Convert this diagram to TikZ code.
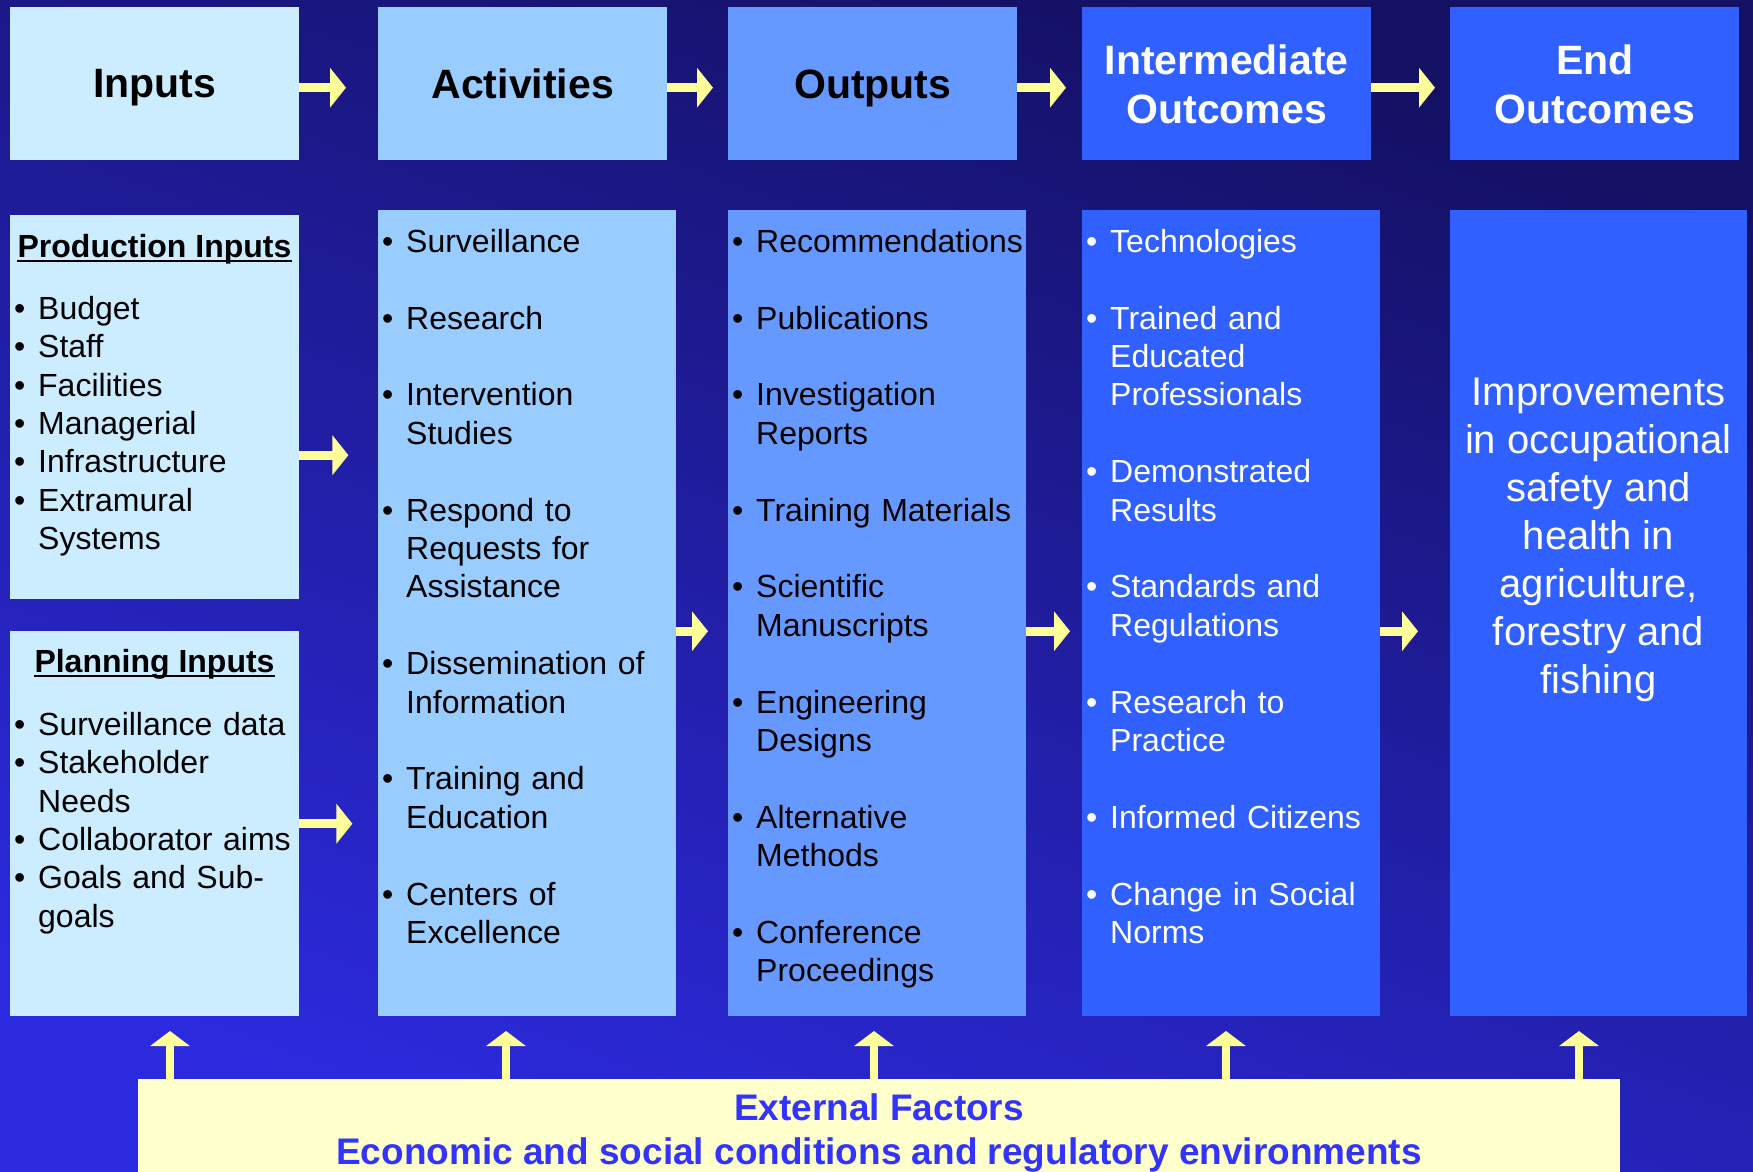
\documentclass[tikz,border=0pt]{standalone}
\usepackage{fontspec}
\setmainfont{Liberation Sans}
\usetikzlibrary{arrows.meta,positioning}

\definecolor{bgtop}{RGB}{20,16,98}
\definecolor{bgbot}{RGB}{44,42,222}
\definecolor{inpc}{RGB}{204,236,255}
\definecolor{actc}{RGB}{153,204,255}
\definecolor{outc}{RGB}{102,153,255}
\definecolor{resc}{RGB}{48,96,255}
\definecolor{extc}{RGB}{255,255,204}
\definecolor{extt}{RGB}{51,51,255}
\definecolor{arrc}{RGB}{255,255,153}

% one bullet item, hanging indent for the wrapped lines
\newcommand{\bul}[1]{\par\hangindent=24pt\hangafter=1\noindent\strut\makebox[24pt][l]{\textbullet}#1}

\tikzset{
  hdr/.style={anchor=north west, inner sep=0pt, minimum width=289pt, minimum height=153pt,
    align=center, text depth=0pt, font=\fontsize{41}{49}\selectfont\bfseries},
  panel/.style={anchor=north west, inner sep=0pt, minimum width=298pt, minimum height=806pt},
  title/.style={anchor=base, inner sep=0pt, font=\fontsize{32}{38.4}\selectfont\bfseries},
  list/.style={anchor=north west, inner sep=0pt, text width=330pt, align=left,
    font=\fontsize{32}{38.4}\selectfont},
  gapped/.style={execute at begin node=\setlength{\parskip}{38.4pt}},
  flow/.style={draw=arrc, line width=9pt, -{Triangle[length=16pt,width=39pt]}},
  upflow/.style={draw=arrc, line width=8pt, -{Triangle[length=15pt,width=39pt]}}
}

\begin{document}
\begin{tikzpicture}[x=1pt, y=-1pt]
\useasboundingbox (0,0) rectangle (1753,1172);
\shade[top color=bgtop, bottom color=bgbot, shading angle=-20] (0,0) rectangle (1753,1172);

% header row
\node[hdr, fill=inpc] (hin) at (10,7) {Inputs};
\node[hdr, fill=actc] (hact) at (378,7) {Activities};
\node[hdr, fill=outc] (hout) at (728,7) {Outputs};
\node[hdr, fill=resc, text=white] (hmid) at (1082,7) {Intermediate\\Outcomes};
\node[hdr, fill=resc, text=white] (hend) at (1450,7) {End\\Outcomes};

\draw[flow] ([yshift=-4pt]hin.east) -- ([xshift=-32pt,yshift=-4pt]hact.west);
\draw[flow] ([yshift=-4pt]hact.east) -- ([xshift=-15pt,yshift=-4pt]hout.west);
\draw[flow] ([yshift=-4pt]hout.east) -- ([xshift=-16pt,yshift=-4pt]hmid.west);
\draw[flow] ([yshift=-4pt]hmid.east) -- ([xshift=-15pt,yshift=-4pt]hend.west);

% body panels
\node[panel, fill=inpc, minimum width=289pt, minimum height=384pt] (bin1) at (10,215) {};
\node[panel, fill=inpc, minimum width=289pt, minimum height=385pt] (bin2) at (10,631) {};
\node[panel, fill=actc] (bact) at (378,210) {};
\node[panel, fill=outc] (bout) at (728,210) {};
\node[panel, fill=resc] (bmid) at (1082,210) {};
\node[panel, fill=resc, minimum width=297pt] (bend) at (1450,210) {};

% inputs
\node[title] (tprod) at (154.5,257) {Production Inputs};
\draw[line width=2.5pt] ([yshift=-4pt]tprod.base west) -- ([yshift=-4pt]tprod.base east);
\node[list] (lprod) at (14,280.6) {\bul{Budget}\bul{Staff}\bul{Facilities}\bul{Managerial}%
  \bul{Infrastructure}\bul{Extramural\newline Systems}\par};
\node[title] (tplan) at (154.5,672) {Planning Inputs};
\draw[line width=2.5pt] ([yshift=-4pt]tplan.base west) -- ([yshift=-4pt]tplan.base east);
\node[list] (lplan) at (14,696.6) {\bul{Surveillance data}\bul{Stakeholder\newline Needs}%
  \bul{Collaborator aims}\bul{Goals and Sub-\newline goals}\par};

% activities, outputs, intermediate outcomes
\node[list, gapped] (lact) at (382,175.2) {\bul{Surveillance}\bul{Research}%
  \bul{Intervention\newline Studies}\bul{Respond to\newline Requests for\newline Assistance}%
  \bul{Dissemination of\newline Information}\bul{Training and\newline Education}%
  \bul{Centers of\newline Excellence}\par};
\node[list, gapped] (lout) at (732,175.2) {\bul{Recommendations}\bul{Publications}%
  \bul{Investigation\newline Reports}\bul{Training Materials}\bul{Scientific\newline Manuscripts}%
  \bul{Engineering\newline Designs}\bul{Alternative\newline Methods}%
  \bul{Conference\newline Proceedings}\par};
\node[list, gapped, text=white] (lmid) at (1086,175.2) {\bul{Technologies}%
  \bul{Trained and\newline Educated\newline Professionals}\bul{Demonstrated\newline Results}%
  \bul{Standards and\newline Regulations}\bul{Research to\newline Practice}%
  \bul{Informed Citizens}\bul{Change in Social\newline Norms}\par};

% end outcome
\node[anchor=north, inner sep=0pt, align=center, text=white, font=\fontsize{40}{48}\selectfont]
  (tend) at (1598.5,371.4) {\strut Improvements\\in occupational\\safety and\\health in\\agriculture,\\forestry and\\fishing};

\draw[flow] ([yshift=-48pt]bin1.east) -- ++(49,0);
\draw[flow] (bin2.east) -- ++(53,0);
\draw[flow] ([yshift=-18pt]bact.east) -- ([xshift=-20pt,yshift=-18pt]bout.west);
\draw[flow] ([yshift=-18pt]bout.east) -- ([xshift=-12pt,yshift=-18pt]bmid.west);
\draw[flow] ([yshift=-18pt]bmid.east) -- ([xshift=-32pt,yshift=-18pt]bend.west);

% external factors
\node[anchor=north, inner sep=0pt, fill=extc, minimum width=1482pt, minimum height=100pt] (ext) at (879,1079) {};
\node[anchor=north, inner sep=0pt, align=center, text=extt, font=\fontsize{37}{44}\selectfont\bfseries]
  (extlbl) at (879,1089.2) {\strut External Factors\\Economic and social conditions and regulatory environments};
\foreach \x [count=\i] in {170,506,874,1226,1579} {
  \coordinate (up\i) at (\x,1031);
  \draw[upflow] (ext.north -| up\i) -- (up\i);
}
\end{tikzpicture}
\end{document}
